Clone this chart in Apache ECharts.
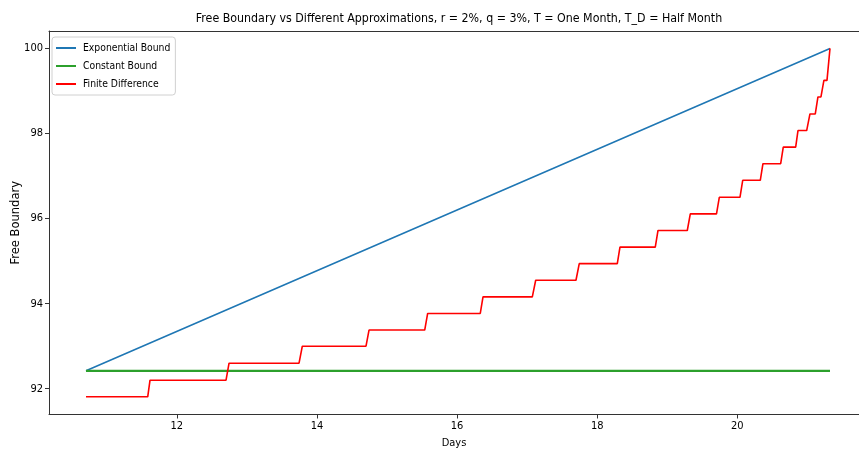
<!DOCTYPE html>
<html>
<head>
<meta charset="utf-8">
<script src="https://cdn.jsdelivr.net/npm/echarts@6/dist/echarts.min.js"></script>
<style>
html,body{margin:0;padding:0;background:#fff;}
#chart{width:859px;height:455px;}
</style>
</head>
<body>
<div id="chart"></div>
<script>
// ---- data ----
const titleText = 'Free Boundary vs Different Approximations, r = 2%, q = 3%, T = One Month, T_D = Half Month';
const seriesNames = ['Exponential Bound', 'Constant Bound', 'Finite Difference'];
const xTicks = [12, 14, 16, 18, 20];
const yTicks = [92, 94, 96, 98, 100];

// Exponential bound (days, value)
const expDays = [10.703, 16.0, 21.323];
const expVals = [92.42, 96.2, 100.0];

// Constant bound
const constDays = [10.703, 21.323];
const constVals = [92.42, 92.42];

// Finite difference staircase: level value held from start day to end day
const fdLevels = [91.81, 92.20, 92.60, 93.00, 93.38, 93.77, 94.16, 94.55, 94.94, 95.33, 95.72,
                  96.11, 96.50, 96.90, 97.29, 97.68, 98.07, 98.46, 98.86, 99.25, 100.0];
const fdStart  = [10.703, 11.617, 12.745, 13.791, 14.743, 15.580, 16.370, 17.122, 17.744, 18.325, 18.868,
                  19.329, 19.743, 20.077, 20.366, 20.656, 20.866, 21.037, 21.151, 21.236, 21.323];
const fdEnd    = [11.584, 12.702, 13.744, 14.700, 15.538, 16.331, 17.074, 17.697, 18.287, 18.829, 19.286,
                  19.703, 20.038, 20.328, 20.619, 20.833, 20.990, 21.113, 21.194, 21.280, 21.323];

// ---- build series data ----
const zip = (xs, ys) => xs.map((x, i) => [x, ys[i]]);
const fdData = [];
fdLevels.forEach((v, i) => {
  fdData.push([fdStart[i], v]);
  if (fdEnd[i] !== fdStart[i]) fdData.push([fdEnd[i], v]);
});

const condensed = '"DejaVu Sans Condensed", "Liberation Sans Narrow", "DejaVu Sans", sans-serif';
const txt = '#000';
const axisCol = '#333';

const chart = echarts.init(document.getElementById('chart'), null, {renderer: 'canvas'});
chart.setOption({
  animation: false,
  backgroundColor: '#fff',
  title: {
    text: titleText,
    left: 454, textAlign: 'center',
    top: 8,
    textStyle: {fontFamily: condensed, fontSize: 12.3, fontWeight: 'normal', color: txt}
  },
  legend: {
    orient: 'vertical',
    left: 52, top: 37,
    data: seriesNames,
    icon: 'rect',
    itemWidth: 20, itemHeight: 2,
    itemGap: 6,
    padding: [5, 5, 5, 4],
    borderColor: '#d0d0d0', borderWidth: 1, borderRadius: 3,
    backgroundColor: 'rgba(255,255,255,0.8)',
    textStyle: {fontFamily: condensed, fontSize: 10.3, color: txt, padding: [0, 0, 0, 2], lineHeight: 12}
  },
  grid: {left: 49, right: 0, top: 31, bottom: 40.5, containLabel: false, outerBoundsMode: 'none'},
  xAxis: [{
    type: 'value',
    min: 10.175, max: 21.737,
    name: 'Days', nameLocation: 'middle', nameGap: 23, nameMoveOverlap: false,
    nameTextStyle: {fontFamily: condensed, fontSize: 11, color: txt},
    axisLine: {show: true, onZero: false, lineStyle: {color: axisCol, width: 1}},
    axisTick: {show: true, length: 4, customValues: xTicks, lineStyle: {color: axisCol}},
    axisLabel: {customValues: xTicks, margin: 6, fontFamily: condensed, fontSize: 11, color: txt},
    splitLine: {show: false}
  }, {
    type: 'value', position: 'top',
    min: 10.175, max: 21.737,
    axisLine: {show: true, onZero: false, lineStyle: {color: axisCol, width: 1}},
    axisTick: {show: false}, axisLabel: {show: false}, splitLine: {show: false}
  }],
  yAxis: {
    type: 'value',
    min: 91.394, max: 100.41,
    name: 'Free Boundary', nameLocation: 'middle', nameGap: 27, nameMoveOverlap: false,
    nameTextStyle: {fontFamily: '"DejaVu Sans", sans-serif', fontSize: 11.5, color: txt},
    axisLine: {show: true, onZero: false, lineStyle: {color: axisCol, width: 1}},
    axisTick: {show: true, length: 4, customValues: yTicks, lineStyle: {color: axisCol}},
    axisLabel: {customValues: yTicks, margin: 6, fontFamily: condensed, fontSize: 11, color: txt},
    splitLine: {show: false}
  },
  series: [
    {name: seriesNames[0], type: 'line', data: zip(expDays, expVals), showSymbol: false,
     lineStyle: {color: '#1f77b4', width: 1.6}, itemStyle: {color: '#1f77b4'}},
    {name: seriesNames[1], type: 'line', data: zip(constDays, constVals), showSymbol: false,
     lineStyle: {color: '#2ca02c', width: 2.4}, itemStyle: {color: '#2ca02c'}},
    {name: seriesNames[2], type: 'line', data: fdData, showSymbol: false,
     lineStyle: {color: '#ff0000', width: 1.6}, itemStyle: {color: '#ff0000'}}
  ]
});
</script>
</body>
</html>
